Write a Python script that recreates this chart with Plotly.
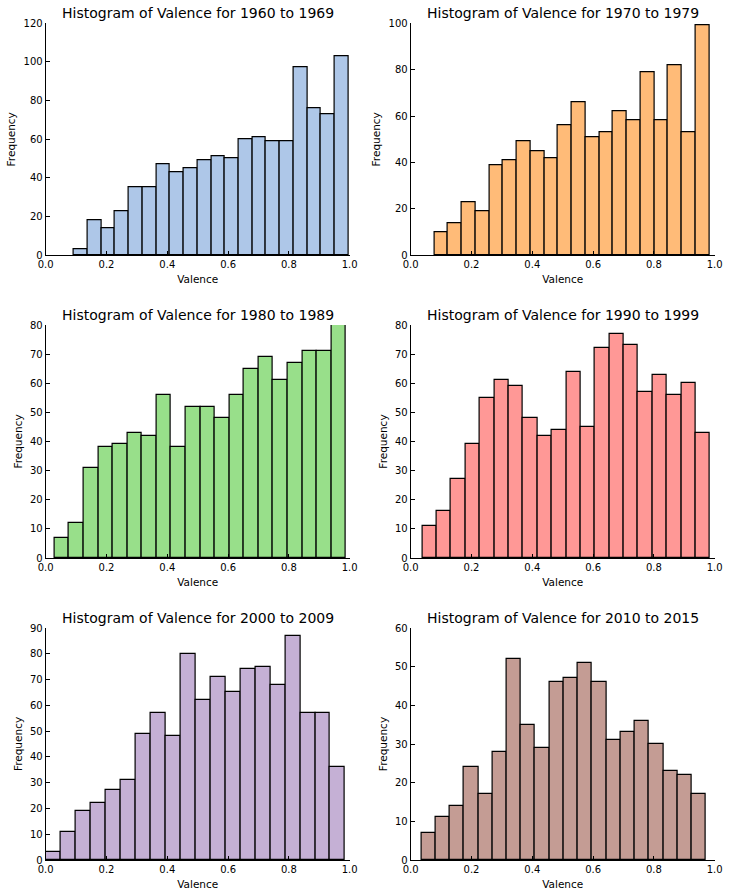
import plotly.graph_objects as go

# ---- data ----
decades = ["1960 to 1969", "1970 to 1979", "1980 to 1989",
           "1990 to 1999", "2000 to 2009", "2010 to 2015"]
colors = ["#aec7e8", "#ffbb78", "#98df8a", "#ff9896", "#c5b0d5", "#c49c94"]

# valence range covered by the 20 bins of each decade (min, max)
valence_min = [0.093, 0.078, 0.029, 0.038, 0.000, 0.035]
valence_max = [0.996, 0.982, 0.988, 0.985, 0.985, 0.971]

counts_1960s = [3, 18, 14, 23, 35, 35, 47, 43, 45, 49, 51, 50, 60, 61, 59, 59, 97, 76, 73, 103]
counts_1970s = [10, 14, 23, 19, 39, 41, 49, 45, 42, 56, 66, 51, 53, 62, 58, 79, 58, 82, 53, 99]
counts_1980s = [7, 12, 31, 38, 39, 43, 42, 56, 38, 52, 52, 48, 56, 65, 69, 61, 67, 71, 71, 80]
counts_1990s = [11, 16, 27, 39, 55, 61, 59, 48, 42, 44, 64, 45, 72, 77, 73, 57, 63, 56, 60, 43]
counts_2000s = [3, 11, 19, 22, 27, 31, 49, 57, 48, 80, 62, 71, 65, 74, 75, 68, 87, 57, 57, 36]
counts_2010s = [7, 11, 14, 24, 17, 28, 52, 35, 29, 46, 47, 51, 46, 31, 33, 36, 30, 23, 22, 17]
all_counts = [counts_1960s, counts_1970s, counts_1980s, counts_1990s, counts_2000s, counts_2010s]

y_max = [120, 100, 80, 80, 90, 60]
y_dtick = [20, 20, 10, 10, 10, 10]

# ---- layout geometry (pixels) ----
W, H = 730, 896
col_px = [(45.7, 349.7), (410.7, 714.7)]
row_px = [(23.3, 255.3), (325.0, 558.0), (628.0, 860.0)]

font_family = "DejaVu Sans"
fig = go.Figure()
layout = dict(
    width=W, height=H,
    margin=dict(l=0, r=0, t=0, b=0, autoexpand=False),
    paper_bgcolor="white", plot_bgcolor="white",
    showlegend=False, bargap=0,
    font=dict(family=font_family, color="black", size=10),
    annotations=[],
)

for i in range(6):
    r, c = divmod(i, 2)
    n = len(all_counts[i])
    bw = (valence_max[i] - valence_min[i]) / n
    centers = [valence_min[i] + bw * (k + 0.5) for k in range(n)]
    xa = "x" if i == 0 else f"x{i+1}"
    ya = "y" if i == 0 else f"y{i+1}"
    fig.add_trace(go.Bar(
        x=centers, y=all_counts[i], width=bw,
        marker=dict(color=colors[i], line=dict(color="black", width=1.2)),
        xaxis=xa, yaxis=ya, hoverinfo="x+y",
    ))
    x0, x1 = col_px[c]
    t, b = row_px[r]
    axis_common = dict(
        showline=True, linecolor="black", linewidth=1, mirror=False,
        ticks="inside", ticklen=4, tickwidth=1, tickcolor="black",
        showgrid=False, zeroline=False, automargin=False,
        tickfont=dict(size=10, family=font_family, color="black"),
    )
    layout["xaxis" if i == 0 else f"xaxis{i+1}"] = dict(
        axis_common, domain=[x0 / W, x1 / W], anchor=ya,
        range=[0, 1], tick0=0, dtick=0.2, tickformat=".1f",
        title=dict(text="Valence", font=dict(size=10.5, family=font_family), standoff=6),
    )
    layout["yaxis" if i == 0 else f"yaxis{i+1}"] = dict(
        axis_common, domain=[1 - b / H, 1 - t / H], anchor=xa,
        range=[0, y_max[i]], tick0=0, dtick=y_dtick[i],
        title=dict(text="Frequency", font=dict(size=10.5, family=font_family), standoff=5),
    )
    layout["annotations"].append(dict(
        text=f"Histogram of Valence for {decades[i]}",
        xref="paper", yref="paper", x=(x0 + x1) / 2 / W, y=1 - (t - 10.5) / H,
        xanchor="center", yanchor="middle", showarrow=False,
        font=dict(size=14, family=font_family, color="black"),
    ))

fig.update_layout(**layout)
fig.write_html("out.html")
